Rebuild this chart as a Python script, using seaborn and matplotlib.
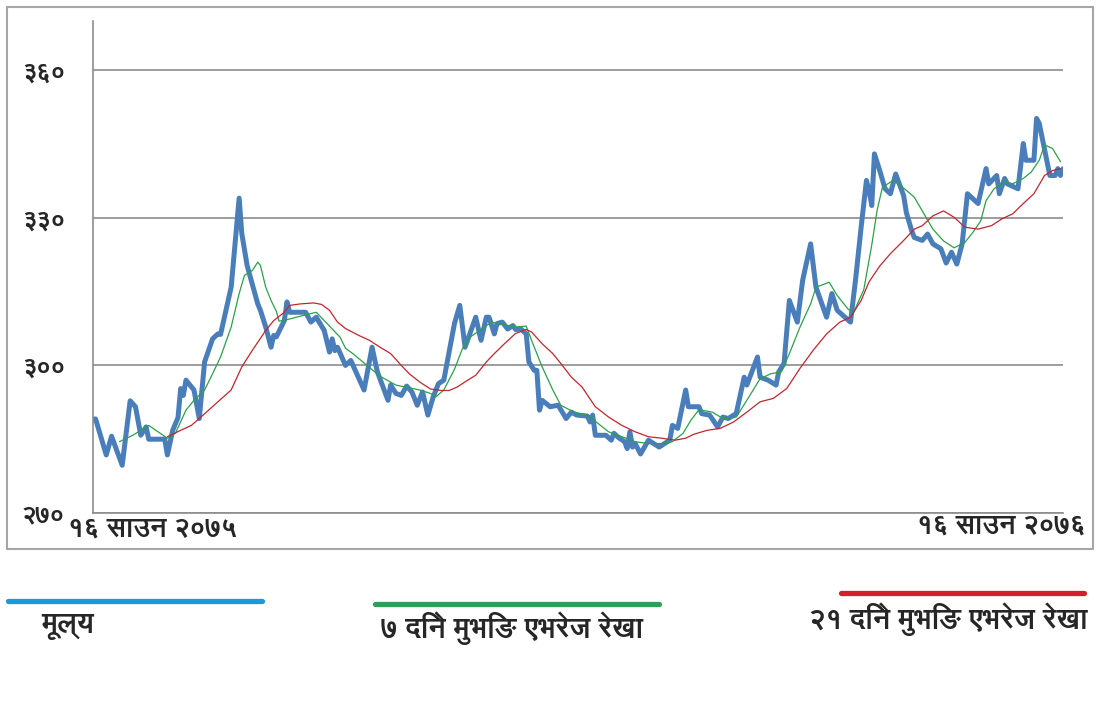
import matplotlib
matplotlib.use("Agg")
import matplotlib.pyplot as plt
import seaborn as sns
from matplotlib import font_manager
from matplotlib.lines import Line2D
from matplotlib.patches import Rectangle
from fontTools.ttLib import TTFont

# day number counted from 16 Saun 2075 (0) to 16 Saun 2076 (365)
price_day = [0, 1, 5, 7, 11, 14, 16, 18, 20, 21, 27, 28, 30, 32, 33, 34, 35, 38, 40, 42,
             45, 47, 48, 52, 55, 56, 58, 62, 63, 65, 67, 68, 69, 72, 73, 74, 80, 82, 84, 87,
             89, 90, 91, 92, 95, 97, 102, 105, 107, 111, 112, 114, 116, 118, 120, 122, 124, 126, 128, 130,
             132, 134, 136, 138, 140, 144, 146, 148, 149, 151, 152, 154, 156, 158, 159, 161, 163, 164, 166, 167,
             168, 169, 172, 175, 178, 180, 182, 186, 187, 188, 189, 193, 195, 196, 198, 200, 201, 202, 203, 204,
             206, 209, 211, 213, 215, 217, 218, 220, 223, 224, 228, 229, 232, 235, 237, 239, 242, 245, 246, 250,
             251, 254, 257, 258, 260, 262, 265, 267, 270, 272, 276, 278, 280, 285, 287, 289, 291, 292, 293, 294,
             296, 298, 300, 302, 305, 306, 308, 309, 312, 314, 316, 319, 321, 323, 325, 327, 329, 333, 336, 337,
             340, 341, 343, 344, 348, 350, 351, 354, 355, 356, 360, 362, 363, 364, 365]
price = [289.1, 289.1, 281.8, 285.6, 279.7, 292.8, 291.6, 285.8, 287.5, 285.0, 285.0, 281.8, 286.8, 289.4, 295.3, 293.9, 297.0, 295.0, 289.2, 300.7,
         305.4, 306.4, 306.3, 315.9, 334.0, 326.8, 320.3, 312.5, 311.2, 307.8, 303.7, 306.1, 305.8, 309.1, 312.9, 310.8, 310.8, 308.8, 309.8, 307.1,
         302.7, 305.4, 303.0, 303.7, 300.0, 301.0, 295.0, 303.7, 298.7, 292.9, 296.0, 294.3, 293.9, 295.8, 294.6, 291.9, 294.6, 289.9, 293.6, 296.3,
         297.0, 302.7, 308.5, 312.2, 303.7, 309.8, 305.1, 309.8, 309.8, 306.4, 308.5, 308.8, 307.4, 308.1, 307.3, 307.4, 306.4, 300.7, 299.0, 299.0,
         290.9, 292.9, 291.6, 291.9, 289.2, 290.5, 289.9, 289.7, 288.5, 289.9, 285.8, 285.8, 284.8, 286.2, 285.2, 284.5, 283.1, 286.5, 283.4, 284.1,
         282.0, 284.8, 284.1, 283.4, 284.1, 284.8, 287.8, 287.2, 295.0, 291.6, 291.6, 290.2, 289.9, 287.5, 289.5, 289.2, 290.2, 297.6, 296.0, 301.7,
         297.6, 297.0, 296.0, 298.7, 300.4, 313.2, 308.8, 317.3, 324.7, 315.9, 309.8, 314.6, 311.2, 308.8, 317.9, 328.1, 337.6, 335.5, 332.5, 343.0,
         339.6, 335.9, 334.9, 338.9, 334.5, 331.1, 327.4, 326.0, 325.4, 326.7, 324.7, 323.7, 320.8, 323.0, 320.6, 324.7, 334.9, 332.9, 340.0, 336.9,
         338.6, 334.9, 338.0, 336.9, 335.9, 345.1, 341.7, 341.7, 350.2, 349.2, 338.6, 338.6, 340.0, 338.6, 340.0]

ma7_day = [10, 15, 21, 28, 31, 35, 38, 42, 45, 48, 52, 55, 57, 60, 62, 63, 65, 67, 69, 70,
           73, 78, 84, 89, 93, 95, 98, 102, 108, 114, 123, 127, 129, 132, 136, 139, 142, 146, 150, 155,
           159, 163, 165, 169, 173, 176, 181, 186, 190, 194, 199, 204, 209, 214, 218, 222, 225, 228, 233, 237,
           242, 246, 251, 255, 259, 262, 266, 270, 272, 277, 280, 284, 286, 290, 293, 295, 297, 301, 304, 309,
           312, 316, 320, 324, 328, 331, 334, 336, 339, 343, 346, 350, 353, 356, 358, 361, 364]
ma7 = [284.5, 285.8, 287.8, 285.2, 286.2, 290.9, 292.9, 295.0, 298.3, 301.7, 307.8, 314.6, 318.3, 319.3, 321.0, 320.3, 315.9, 313.2, 311.0, 309.0,
       309.3, 310.0, 310.8, 308.0, 305.7, 303.5, 302.3, 300.5, 297.8, 296.0, 295.0, 294.3, 293.6, 295.0, 299.2, 303.4, 305.8, 307.3, 308.8, 308.2,
       307.8, 308.0, 305.1, 299.7, 295.0, 291.9, 290.5, 289.9, 288.2, 286.5, 285.5, 284.5, 284.1, 284.1, 284.5, 286.2, 288.9, 291.0, 290.5, 289.2,
       289.5, 292.9, 297.3, 298.3, 298.7, 302.4, 307.8, 312.5, 315.9, 316.9, 314.2, 311.5, 310.6, 315.4, 324.5, 331.5, 336.2, 337.6, 336.5, 334.2,
       331.4, 327.7, 325.3, 323.9, 325.0, 327.0, 329.4, 333.5, 335.9, 337.3, 336.9, 338.0, 339.3, 341.7, 344.8, 344.1, 341.4]

ma21_day = [28, 33, 37, 40, 47, 52, 56, 60, 65, 68, 72, 74, 78, 83, 86, 89, 92, 95, 100, 104,
            108, 112, 116, 119, 123, 127, 131, 134, 137, 141, 144, 148, 151, 155, 159, 163, 165, 169, 173, 176,
            180, 184, 189, 194, 199, 204, 209, 214, 219, 223, 226, 231, 236, 241, 246, 251, 256, 261, 266, 271,
            276, 281, 285, 289, 292, 296, 300, 305, 309, 312, 316, 320, 324, 328, 333, 338, 342, 346, 350, 354,
            358, 361, 364]
ma21 = [285.5, 286.8, 287.8, 289.2, 292.6, 295.0, 299.7, 303.1, 307.1, 309.1, 310.8, 312.2, 312.5, 312.7, 312.4, 311.2, 308.8, 307.5, 306.1, 305.1,
        303.7, 302.4, 300.0, 298.3, 296.6, 295.2, 294.9, 294.9, 295.6, 297.0, 298.0, 300.7, 302.4, 304.5, 306.5, 307.3, 306.8, 304.4, 302.4, 300.4,
        297.6, 295.6, 291.6, 289.5, 287.8, 286.5, 285.5, 285.2, 284.8, 285.2, 286.0, 286.8, 287.2, 288.5, 290.5, 292.6, 293.3, 295.3, 299.4, 303.1,
        306.4, 308.8, 309.8, 313.2, 317.0, 320.2, 322.7, 325.4, 327.7, 328.4, 330.4, 331.4, 330.1, 328.1, 327.7, 328.4, 329.8, 330.8, 332.9, 334.9,
        338.6, 339.6, 340.0]

y_ticks = [270, 300, 330, 360]
start_label = "१६ साउन २०७५"
end_label = "१६ साउन २०७६"
legend_labels = ["मूल्य", "७ दिने मुभिङ एभरेज रेखा", "२१ दिने मुभिङ एभरेज रेखा"]


def to_nepali_digits(n):
    return str(n).translate(str.maketrans("0123456789", "०१२३४५६७८९"))


def devanagari_family():
    # look for installed fonts that have Devanagari letters, prefer one with a bold face
    found = []
    for f in font_manager.fontManager.ttflist:
        try:
            tt = TTFont(f.fname, fontNumber=0, lazy=True)
            if 0x0915 in tt.getBestCmap():
                found.append(f)
        except Exception:
            continue
    if not found:
        return None
    bold = [f for f in found if f.weight in ("bold", 700, 600, "semibold", "heavy", 800, 900)]
    return (bold or found)[0].name


def main():
    sns.set_theme(style="white")
    fam = devanagari_family()
    plt.rcParams["font.family"] = [fam, "DejaVu Sans"] if fam else ["DejaVu Sans"]

    fig = plt.figure(figsize=(11, 7.01), dpi=100)
    ax = fig.add_axes([0.0845, 0.2682, 0.882, 0.7018])

    sns.lineplot(x=price_day, y=price, ax=ax, color="#4a7ebb", linewidth=3.6,
                 estimator=None, sort=False)
    sns.lineplot(x=ma7_day, y=ma7, ax=ax, color="#2ca04a", linewidth=0.9,
                 estimator=None, sort=False)
    sns.lineplot(x=ma21_day, y=ma21, ax=ax, color="#c0262e", linewidth=0.9,
                 estimator=None, sort=False)

    ax.set_xlim(0, 365)
    ax.set_ylim(270, 370)
    ax.set_yticks(y_ticks)
    ax.set_yticklabels([to_nepali_digits(t) for t in y_ticks], fontsize=18, fontweight="bold")
    ax.set_xticks([])
    ax.set_xlabel("")
    ax.set_ylabel("")
    ax.yaxis.grid(True, color="#8c8c8c", linewidth=1.2)
    ax.xaxis.grid(False)
    ax.tick_params(axis="y", length=8, width=1.2, color="#8c8c8c", pad=12)
    for side in ["top", "right"]:
        ax.spines[side].set_visible(False)
    for side in ["left", "bottom"]:
        ax.spines[side].set_color("#8c8c8c")
        ax.spines[side].set_linewidth(1.2)

    ax.text(-0.026, -0.031, start_label, transform=ax.transAxes, ha="left", va="center",
            fontsize=19.5, fontweight="bold")
    ax.text(1.023, -0.025, end_label, transform=ax.transAxes, ha="right", va="center",
            fontsize=19.5, fontweight="bold")

    # outer chart frame
    fig.patches.append(Rectangle((0.0064, 0.2168), 0.987, 0.773, transform=fig.transFigure,
                                 fill=False, edgecolor="#a6a6a6", linewidth=1.5))

    # legend below the frame, key above each label
    keys = [((8, 262), 601, "#1a9ad7", (68, 627)),
            ((375, 659), 604, "#2e9e58", (512, 628)),
            ((841, 1084), 593, "#d0202c", (948, 619))]
    for (x0, x1), ky, col, _ in keys:
        fig.add_artist(Line2D([x0 / 1100, x1 / 1100], [1 - ky / 701, 1 - ky / 701],
                              transform=fig.transFigure, color=col, linewidth=3.8))
    for label, (_, _, _, (tx, ty)) in zip(legend_labels, keys):
        fig.text(tx / 1100, 1 - ty / 701, label, ha="center", va="center",
                 fontsize=20.5, fontweight="bold")

    fig.savefig("out.png", dpi=100)


if __name__ == "__main__":
    main()
